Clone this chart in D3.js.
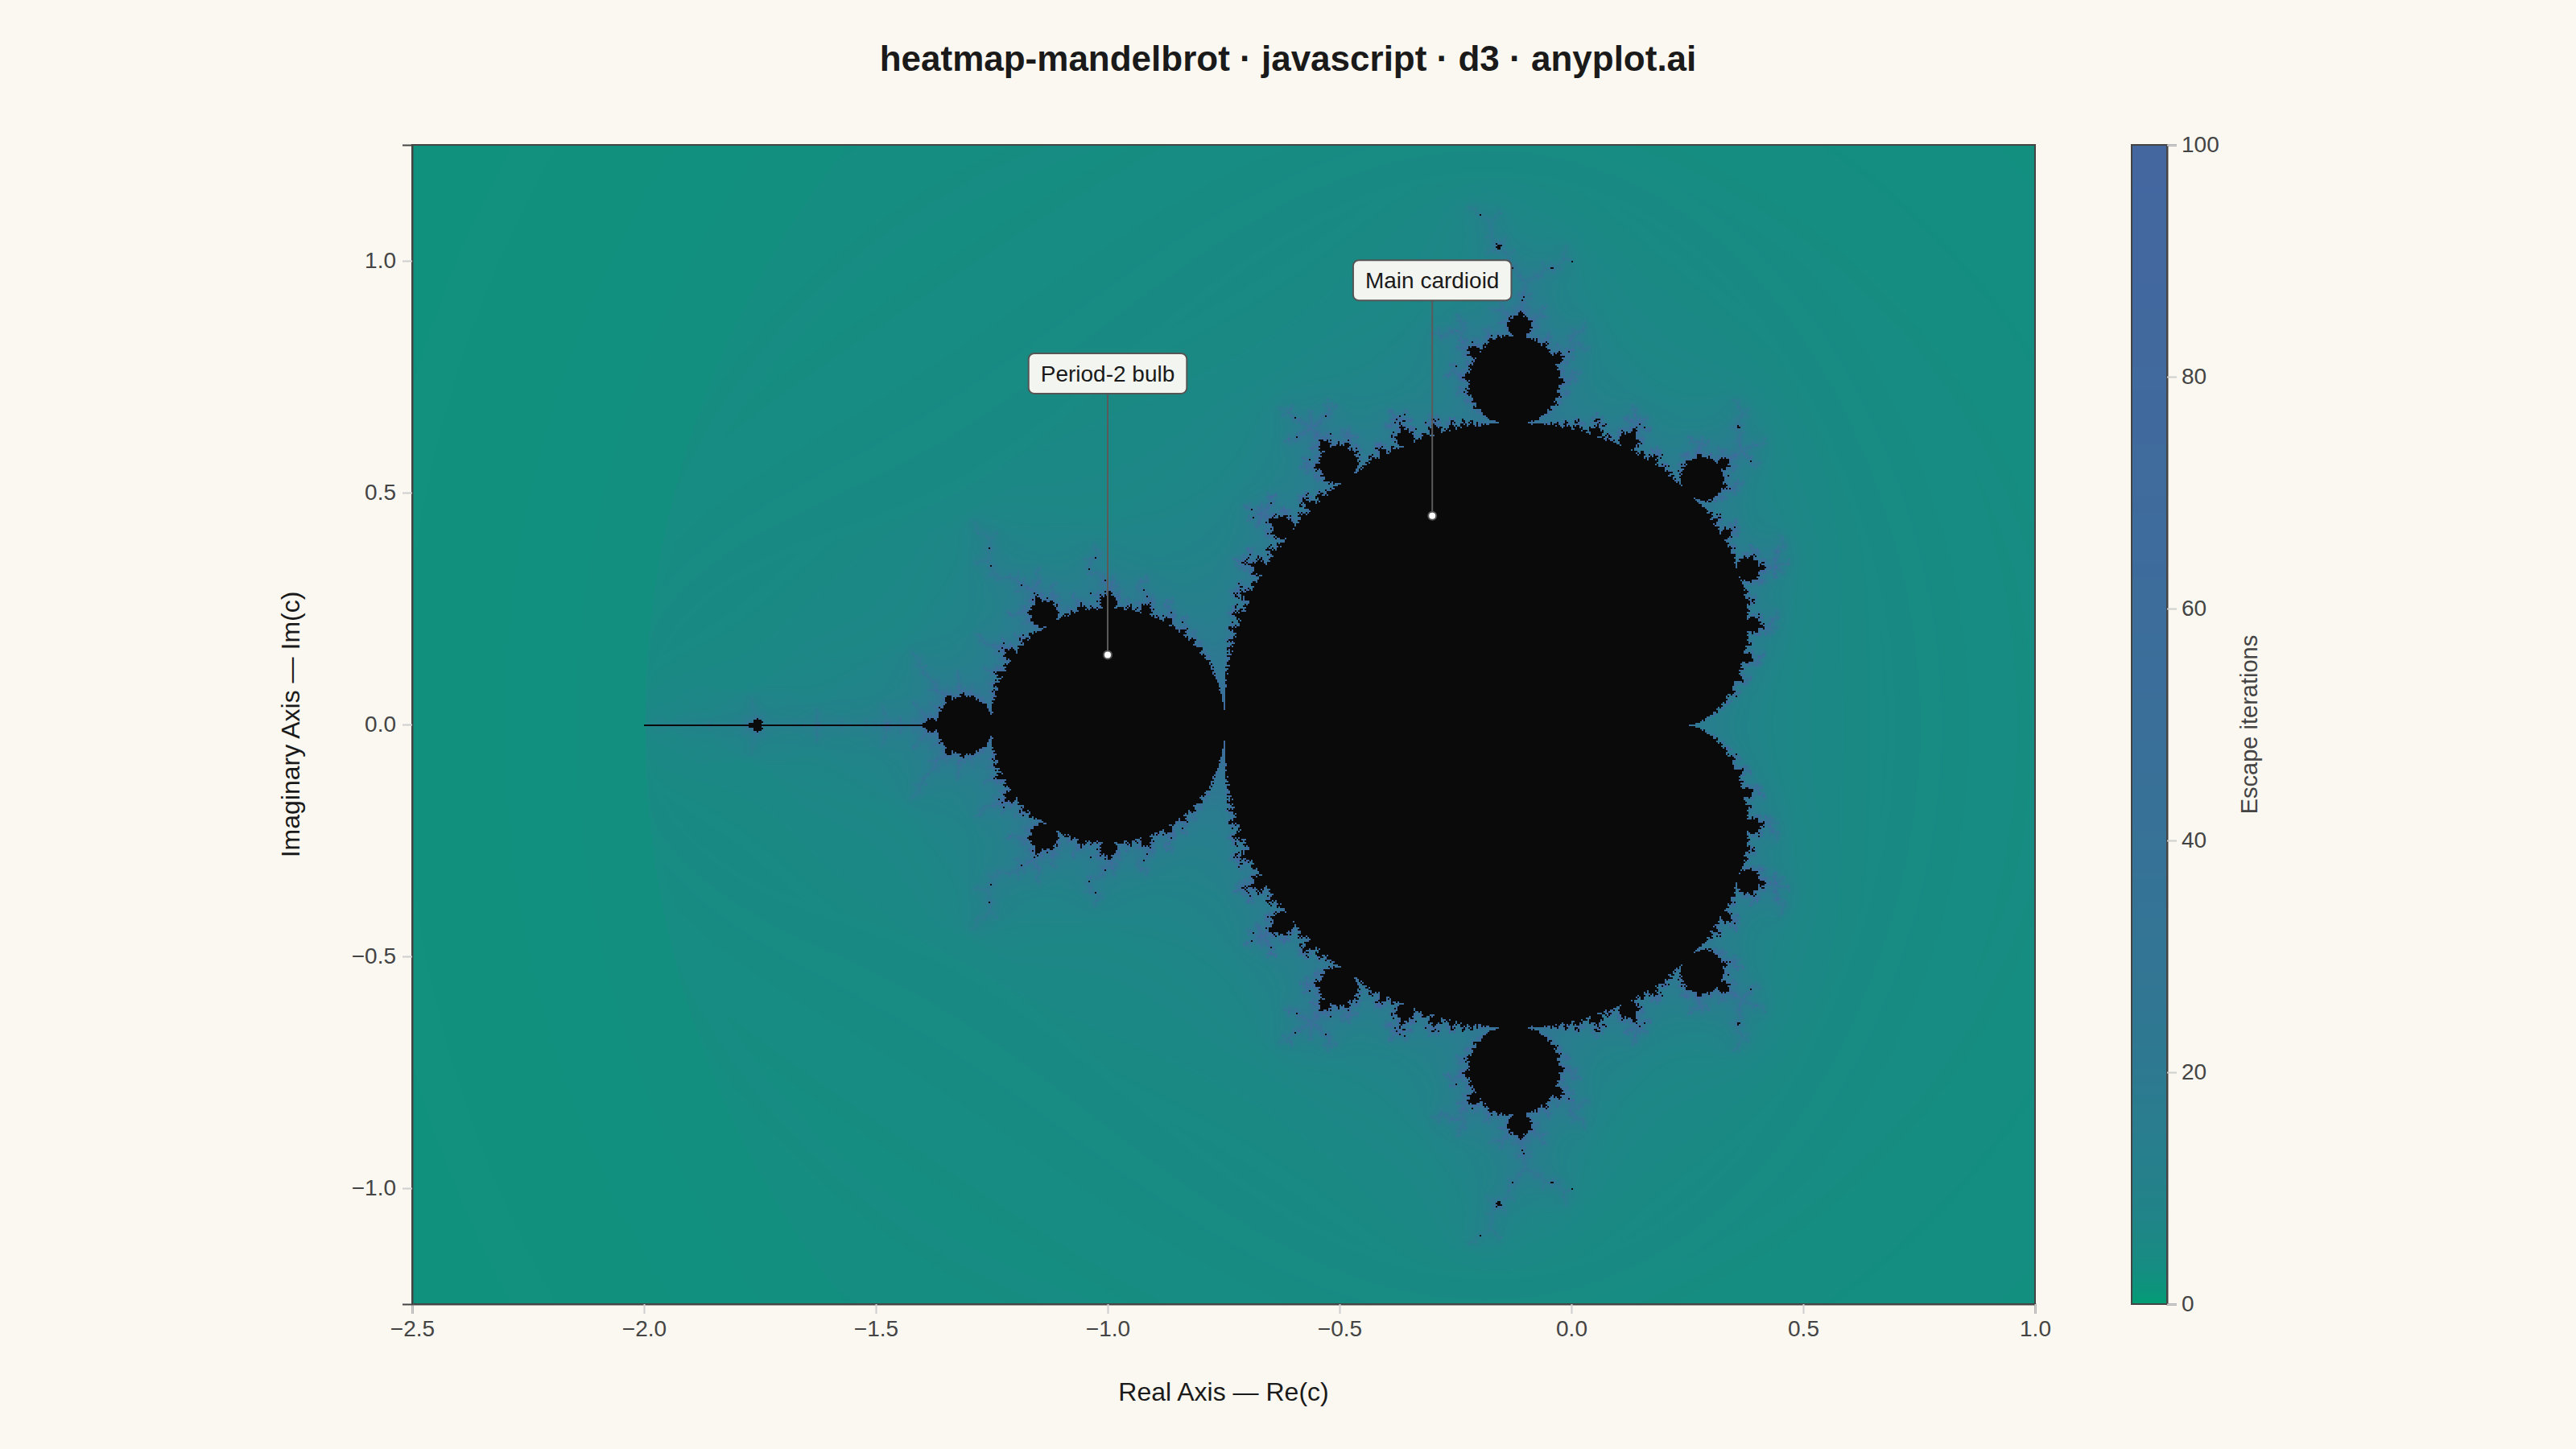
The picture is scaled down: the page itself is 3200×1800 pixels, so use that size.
<!DOCTYPE html>
<html>
<head>
<meta charset="utf-8">
<script src="https://cdn.jsdelivr.net/npm/d3@7"></script>
<style>
  html, body { margin: 0; padding: 0; background: #FAF8F1; }
  svg { display: block; }
  text { font-family: "Liberation Sans", Arial, sans-serif; }
</style>
</head>
<body>
<svg id="chart" width="3200" height="1800"></svg>
<script>
// ---------------- data ----------------
const realRange = [-2.5, 1.0];
const imagRange = [-1.25, 1.25];
const maxIterations = [100];
const gridSize = [1008, 720];           // computation grid (columns, rows)
const xTickValues = [-2.5, -2.0, -1.5, -1.0, -0.5, 0.0, 0.5, 1.0];
const yTickValues = [-1.0, -0.5, 0.0, 0.5, 1.0];
const colorTickValues = [0, 20, 40, 60, 80, 100];
const colorEnds = ["#009E73", "#4467A0"];
const annotationLabels = ["Period-2 bulb", "Main cardioid"];
const annotationPointRe = [-1.0, -0.3];
const annotationPointIm = [0.15, 0.45];
const annotationLabelIm = [0.757, 0.958];
const titleText = "heatmap-mandelbrot · javascript · d3 · anyplot.ai";

// ---------------- layout ----------------
const W = 3200, H = 1800;
const plot = { left: 512, top: 180, width: 2016, height: 1440 };
const cbar = { left: 2648, width: 44 };
const ink = "#444444";
const svg = d3.select("#chart");

svg.append("rect").attr("width", W).attr("height", H).attr("fill", "#FAF8F1");

const x = d3.scaleLinear().domain(realRange).range([plot.left, plot.left + plot.width]);
const y = d3.scaleLinear().domain(imagRange).range([plot.top + plot.height, plot.top]);
const color = d3.scaleSequentialSymlog(d3.interpolateRgb(colorEnds[0], colorEnds[1]))
  .constant(1).domain([0, maxIterations[0]]);

// ---------------- compute Mandelbrot ----------------
const [GW, GH] = gridSize;
const maxIt = maxIterations[0];
const lutN = 4001;
const lut = [];
for (let k = 0; k < lutN; k++) {
  const c = d3.rgb(color(k * maxIt / (lutN - 1)));
  lut.push([c.r, c.g, c.b]);
}
const canvas = document.createElement("canvas");
canvas.width = GW; canvas.height = GH;
const ctx = canvas.getContext("2d");
const img = ctx.createImageData(GW, GH);
const [x0, x1] = realRange, [y0, y1] = imagRange;
for (let j = 0; j < GH; j++) {
  const ci = y1 - (j * (y1 - y0)) / GH;
  for (let i = 0; i < GW; i++) {
    const cr = x0 + (i * (x1 - x0)) / GW;
    let zr = 0, zi = 0, n = 0, r2 = 0;
    while (n < maxIt) {
      const t = zr * zr - zi * zi + cr;
      zi = 2 * zr * zi + ci;
      zr = t;
      n++;
      r2 = zr * zr + zi * zi;
      if (r2 > 4) break;
    }
    const p = (j * GW + i) * 4;
    if (r2 <= 4) {
      img.data[p] = 10; img.data[p + 1] = 10; img.data[p + 2] = 10;
    } else {
      let mu = n + 1 - Math.log(Math.log(Math.sqrt(r2))) / Math.LN2;
      mu = Math.max(0, Math.min(maxIt, mu));
      const c = lut[Math.round(mu / maxIt * (lutN - 1))];
      img.data[p] = c[0]; img.data[p + 1] = c[1]; img.data[p + 2] = c[2];
    }
    img.data[p + 3] = 255;
  }
}
ctx.putImageData(img, 0, 0);

svg.append("image")
  .attr("x", x(x0)).attr("y", y(y1))
  .attr("width", x(x1) - x(x0)).attr("height", y(y0) - y(y1))
  .attr("preserveAspectRatio", "none")
  .style("image-rendering", "pixelated")
  .attr("href", canvas.toDataURL());

// frame
svg.append("rect")
  .attr("x", plot.left).attr("y", plot.top)
  .attr("width", plot.width).attr("height", plot.height)
  .attr("fill", "none").attr("stroke", ink).attr("stroke-width", 2);

// ---------------- axes ----------------
const fmt = d3.format(".1f");
const xAxis = svg.append("g")
  .attr("transform", `translate(0,${plot.top + plot.height})`)
  .call(d3.axisBottom(x).tickValues(xTickValues).tickFormat(fmt).tickSize(12).tickPadding(8));
const yAxis = svg.append("g")
  .attr("transform", `translate(${plot.left},0)`)
  .call(d3.axisLeft(y).tickValues(yTickValues).tickFormat(fmt).tickSize(12).tickPadding(8));
[xAxis, yAxis].forEach(g => {
  g.select(".domain").attr("stroke", ink).attr("stroke-width", 2);
  g.selectAll(".tick line").attr("stroke", "#cfcfcf").attr("stroke-width", 2);
  g.selectAll(".tick text").attr("fill", ink).attr("font-size", 28)
    .attr("font-family", "Liberation Sans, Arial, sans-serif");
});

svg.append("text")
  .attr("x", plot.left + plot.width / 2).attr("y", 1740)
  .attr("text-anchor", "middle").attr("font-size", 32).attr("fill", "#1a1a1a")
  .text("Real Axis — Re(c)");
svg.append("text")
  .attr("transform", `translate(372,${plot.top + plot.height / 2}) rotate(-90)`)
  .attr("text-anchor", "middle").attr("font-size", 32).attr("fill", "#1a1a1a")
  .text("Imaginary Axis — Im(c)");

// title
svg.append("text")
  .attr("x", W / 2).attr("y", 88)
  .attr("text-anchor", "middle").attr("font-size", 44).attr("font-weight", "bold")
  .attr("fill", "#1a1a1a")
  .text(titleText);

// ---------------- annotations ----------------
const ann = svg.append("g");
annotationLabels.forEach((label, k) => {
  const px = x(annotationPointRe[k]), py = y(annotationPointIm[k]);
  const lx = x(annotationPointRe[k]), ly = y(annotationLabelIm[k]);
  const g = ann.append("g");
  const t = g.append("text")
    .attr("x", lx).attr("y", ly).attr("dy", "0.35em")
    .attr("text-anchor", "middle").attr("font-size", 28).attr("fill", "#1a1a1a")
    .text(label);
  const bb = t.node().getBBox();
  const padX = 15, boxH = 50;
  g.insert("line", "text")
    .attr("x1", px).attr("y1", ly + boxH / 2).attr("x2", px).attr("y2", py)
    .attr("stroke", "#5a5a5a").attr("stroke-width", 2);
  g.insert("rect", "text")
    .attr("x", bb.x - padX).attr("y", ly - boxH / 2)
    .attr("width", bb.width + 2 * padX).attr("height", boxH)
    .attr("rx", 7).attr("fill", "#F3F5F0").attr("stroke", "#555").attr("stroke-width", 2);
  g.append("circle").attr("cx", px).attr("cy", py).attr("r", 5)
    .attr("fill", "#ffffff").attr("stroke", "#555").attr("stroke-width", 2);
});

// ---------------- colorbar ----------------
const cbScale = d3.scaleLinear().domain([0, maxIt]).range([plot.top + plot.height, plot.top]);
const defs = svg.append("defs");
const grad = defs.append("linearGradient").attr("id", "cbgrad")
  .attr("x1", 0).attr("y1", 1).attr("x2", 0).attr("y2", 0);
d3.range(0, 201).forEach(k => {
  grad.append("stop").attr("offset", `${k / 2}%`).attr("stop-color", color(k * maxIt / 200));
});
svg.append("rect")
  .attr("x", cbar.left).attr("y", plot.top)
  .attr("width", cbar.width).attr("height", plot.height)
  .attr("fill", "url(#cbgrad)").attr("stroke", ink).attr("stroke-width", 2);
const cbAxis = svg.append("g")
  .attr("transform", `translate(${cbar.left + cbar.width},0)`)
  .call(d3.axisRight(cbScale).tickValues(colorTickValues).tickFormat(d3.format("d")).tickSize(12).tickPadding(6));
cbAxis.select(".domain").attr("stroke", ink).attr("stroke-width", 2);
cbAxis.selectAll(".tick line").attr("stroke", "#cfcfcf").attr("stroke-width", 2);
cbAxis.selectAll(".tick text").attr("fill", ink).attr("font-size", 28)
  .attr("font-family", "Liberation Sans, Arial, sans-serif");
svg.append("text")
  .attr("transform", `translate(2804,${plot.top + plot.height / 2}) rotate(-90)`)
  .attr("text-anchor", "middle").attr("font-size", 29).attr("fill", ink)
  .text("Escape iterations");
</script>
</body>
</html>
